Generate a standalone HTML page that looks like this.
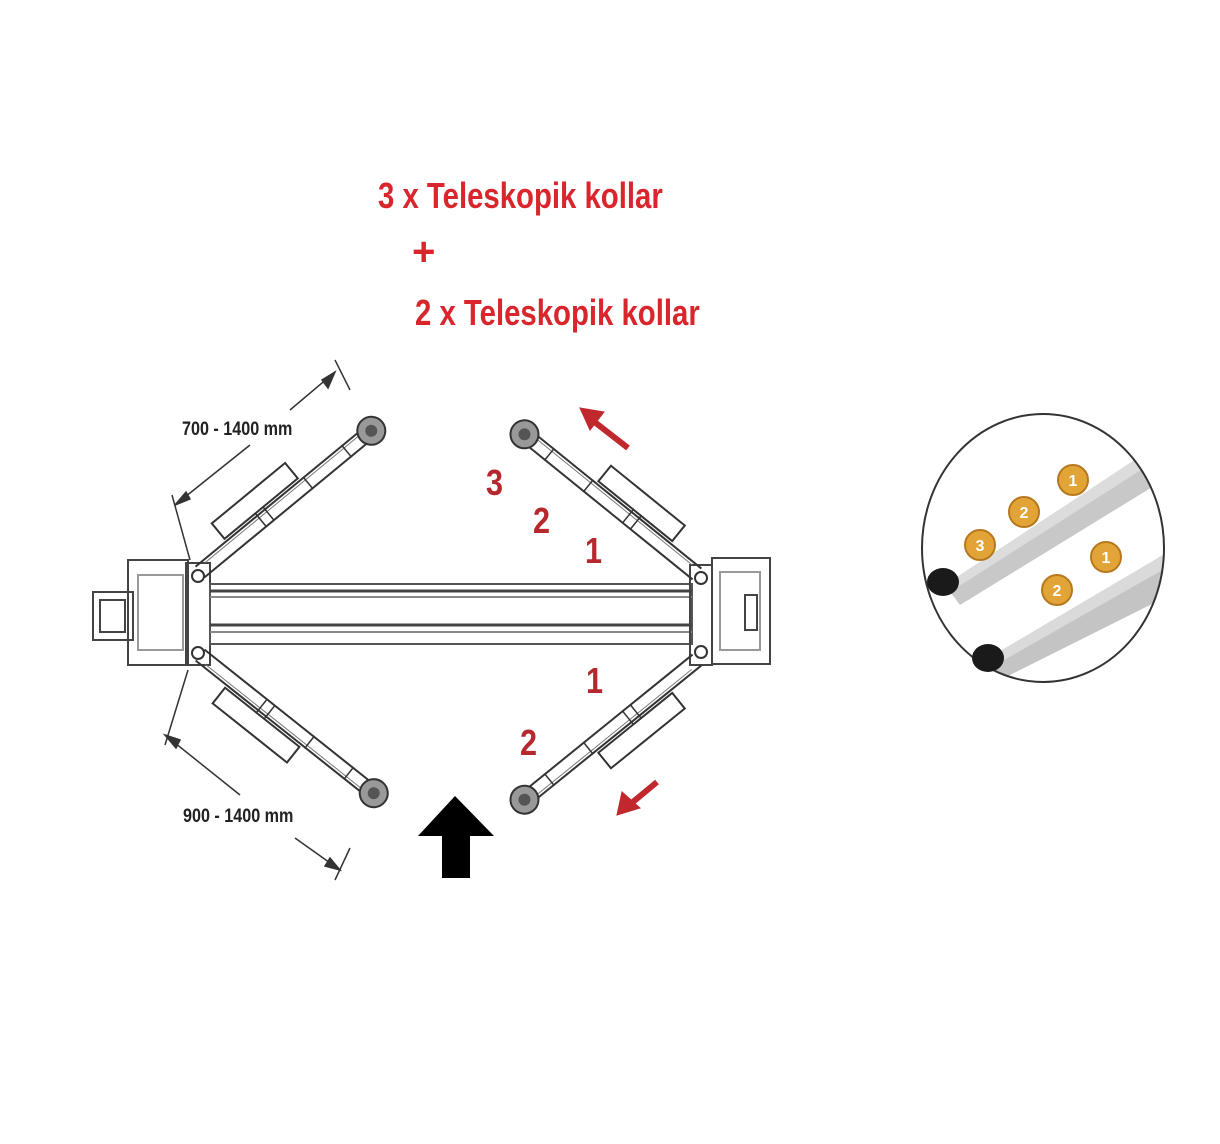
<!DOCTYPE html>
<html><head><meta charset="utf-8"><style>
body{margin:0;background:#fff;width:1220px;height:1144px;overflow:hidden}
svg{display:block}
.t{font-family:"Liberation Sans",sans-serif;font-weight:bold}
</style></head><body>
<svg width="1220" height="1144" viewBox="0 0 1220 1144" xmlns="http://www.w3.org/2000/svg">
<defs>
<g id="arm">
 <line x1="0" y1="-7" x2="215" y2="-7" stroke="#333" stroke-width="2"/>
 <line x1="0" y1="7" x2="215" y2="7" stroke="#333" stroke-width="2"/>
 <line x1="10" y1="-4" x2="215" y2="-4" stroke="#777" stroke-width="1"/>
 <rect x="40" y="-30" width="95" height="20" fill="none" stroke="#333" stroke-width="2"/>
 <line x1="80" y1="-10" x2="80" y2="7" stroke="#333" stroke-width="1.5"/>
 <line x1="90" y1="-10" x2="90" y2="7" stroke="#333" stroke-width="1.5"/>
 <line x1="140" y1="-8" x2="140" y2="8" stroke="#333" stroke-width="1.5"/>
 <line x1="190" y1="-8" x2="190" y2="8" stroke="#333" stroke-width="1.5"/>
 <circle cx="222" cy="0" r="14" fill="#999" stroke="#333" stroke-width="2"/>
 <circle cx="222" cy="0" r="6" fill="#555"/>
</g>
</defs>

<text class="t" x="378" y="208" font-size="36" fill="#d8262c" transform="translate(378 0) scale(0.815 1) translate(-378 0)">3 x Teleskopik kollar</text>
<text class="t" x="412" y="265" font-size="40" fill="#d8262c">+</text>
<text class="t" x="415" y="325" font-size="36" fill="#d8262c" transform="translate(415 0) scale(0.815 1) translate(-415 0)">2 x Teleskopik kollar</text>

<g fill="none" stroke="#444" stroke-width="2">
 <rect x="128" y="560" width="60" height="105"/>
 <rect x="138" y="575" width="45" height="75" stroke="#999"/>
 <rect x="93" y="592" width="40" height="48"/>
 <rect x="100" y="600" width="25" height="32"/>
 <rect x="186" y="563" width="24" height="102"/>
 <rect x="210" y="584" width="482" height="60" stroke="#555"/>
 <line x1="210" y1="591" x2="692" y2="591" stroke-width="3"/>
 <line x1="210" y1="597" x2="692" y2="597" stroke="#888"/>
 <line x1="210" y1="625" x2="692" y2="625" stroke-width="3"/>
 <line x1="210" y1="632" x2="692" y2="632" stroke="#888"/>
 <rect x="690" y="565" width="22" height="100"/>
 <rect x="712" y="558" width="58" height="106"/>
 <rect x="720" y="572" width="40" height="78" stroke="#999"/>
 <rect x="745" y="595" width="12" height="35"/>
</g>
<g fill="#fff" stroke="#333" stroke-width="2">
 <circle cx="198" cy="576" r="6"/><circle cx="198" cy="653" r="6"/>
 <circle cx="701" cy="578" r="6"/><circle cx="701" cy="652" r="6"/>
</g>

<use href="#arm" transform="translate(200 572) rotate(-39.5)"/>
<use href="#arm" transform="translate(200 655) rotate(38.5) scale(1 -1)"/>
<use href="#arm" transform="translate(697 574) rotate(-141) scale(1 -1)"/>
<use href="#arm" transform="translate(697 660) rotate(141)"/>

<g stroke="#333" stroke-width="1.5" fill="#333">
 <line x1="175" y1="505" x2="250" y2="445"/>
 <line x1="290" y1="410" x2="335" y2="372"/>
 <line x1="172" y1="495" x2="190" y2="560"/>
 <line x1="335" y1="360" x2="350" y2="390"/>
 <polygon points="175,505 186,492 190,499"/>
 <polygon points="335,372 322,380 328,388"/>
 <line x1="165" y1="735" x2="240" y2="795"/>
 <line x1="295" y1="838" x2="340" y2="870"/>
 <line x1="165" y1="745" x2="188" y2="670"/>
 <line x1="335" y1="880" x2="350" y2="848"/>
 <polygon points="165,735 180,740 176,748"/>
 <polygon points="340,870 325,866 330,858"/>
</g>
<text class="t" x="182" y="435" font-size="19" fill="#222" transform="translate(182 0) scale(0.85 1) translate(-182 0)">700 - 1400 mm</text>
<text class="t" x="183" y="822" font-size="19" fill="#222" transform="translate(183 0) scale(0.85 1) translate(-183 0)">900 - 1400 mm</text>

<g class="t" font-size="36" fill="#b5282e">
 <text x="486" y="495" transform="translate(486 0) scale(0.85 1) translate(-486 0)">3</text>
 <text x="533" y="533" transform="translate(533 0) scale(0.85 1) translate(-533 0)">2</text>
 <text x="585" y="563" transform="translate(585 0) scale(0.85 1) translate(-585 0)">1</text>
 <text x="586" y="693" transform="translate(586 0) scale(0.85 1) translate(-586 0)">1</text>
 <text x="520" y="755" transform="translate(520 0) scale(0.85 1) translate(-520 0)">2</text>
</g>
<g stroke="#c0282e" stroke-width="6" fill="#c0282e">
 <line x1="628" y1="448" x2="592" y2="420"/>
 <polygon points="580,408 604,412 590,430" stroke-width="1"/>
 <line x1="657" y1="782" x2="628" y2="806"/>
 <polygon points="617,815 622,792 640,808" stroke-width="1"/>
</g>
<polygon points="455,796 494,836 470,836 470,878 442,878 442,836 418,836" fill="#000"/>

<defs><clipPath id="cc"><ellipse cx="1043" cy="548" rx="121" ry="134"/></clipPath></defs>
<g clip-path="url(#cc)">
 <rect x="900" y="400" width="300" height="300" fill="#fff"/>
 <polygon points="945,585 1180,430 1180,470 960,605" fill="#c8c8c8"/>
 <polygon points="945,585 1180,430 1180,445 950,592" fill="#dcdcdc"/>
 <polygon points="985,660 1180,545 1180,590 1000,680" fill="#c4c4c4"/>
 <polygon points="985,660 1180,545 1180,560 990,668" fill="#dadada"/>
</g>
<ellipse cx="1043" cy="548" rx="121" ry="134" fill="none" stroke="#333" stroke-width="2"/>
<ellipse cx="943" cy="582" rx="16" ry="14" fill="#1a1a1a"/>
<ellipse cx="988" cy="658" rx="16" ry="14" fill="#1a1a1a"/>
<g fill="#e3a437" stroke="#b7791e" stroke-width="2">
 <circle cx="980" cy="545" r="15"/><circle cx="1024" cy="512" r="15"/><circle cx="1073" cy="480" r="15"/>
 <circle cx="1057" cy="590" r="15"/><circle cx="1106" cy="557" r="15"/>
</g>
<g class="t" font-size="16" fill="#fff" text-anchor="middle">
 <text x="980" y="551">3</text><text x="1024" y="518">2</text><text x="1073" y="486">1</text>
 <text x="1057" y="596">2</text><text x="1106" y="563">1</text>
</g>
</svg>
</body></html>
